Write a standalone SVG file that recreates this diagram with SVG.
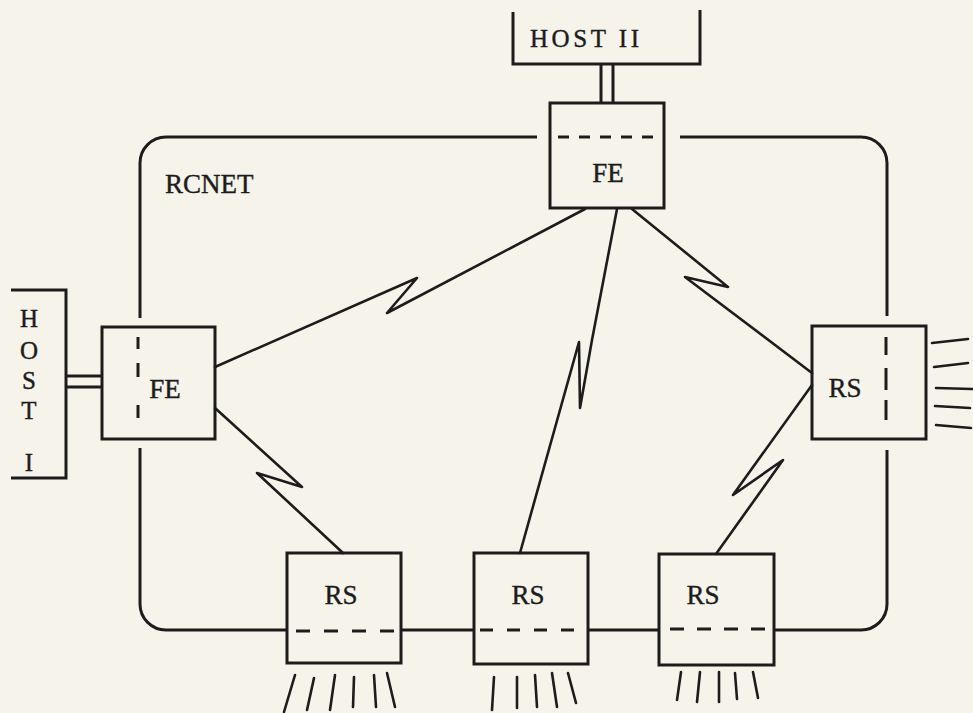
<svg xmlns="http://www.w3.org/2000/svg" width="973" height="713" viewBox="0 0 973 713">
<style>
.bg{fill:#f6f4ea}
.box{fill:none;stroke:#1c1c1c;stroke-width:3}
.ln{fill:none;stroke:#1c1c1c;stroke-width:2.6;stroke-linecap:round;stroke-linejoin:round}
.ring{fill:none;stroke:#1c1c1c;stroke-width:3;stroke-linecap:butt}
.dash{fill:none;stroke:#1c1c1c;stroke-width:3}
.lbl{font-family:"Liberation Serif",serif;font-size:27px;fill:#1c1c1c;stroke:#1c1c1c;stroke-width:0.4}
.tw{font-family:"Liberation Serif",serif;font-size:25px;fill:#1c1c1c;stroke:#1c1c1c;stroke-width:0.4}
</style>
<rect class="bg" x="0" y="0" width="973" height="713"/>

<g id="rcnet">
<path class="ring" d="M537,137 H166 A26,26 0 0 0 140,163 V318"/>
<path class="ring" d="M140,448 V604 A26,26 0 0 0 166,630 H287"/>
<path class="ring" d="M401,630 H474"/>
<path class="ring" d="M588,630 H659"/>
<path class="ring" d="M774,630 H861 A26,26 0 0 0 887,604 V450"/>
<path class="ring" d="M887,316 V163 A26,26 0 0 0 861,137 H680"/>
<text class="lbl" x="165" y="193" font-size="25">RCNET</text>
</g>

<g id="host2">
<path class="box" d="M513,12 V64 H700 V10"/>
<text class="tw" x="530" y="47" textLength="109" font-size="26">HOST II</text>
</g>

<g id="host1">
<path class="box" d="M11,290 H66 V478 H11"/>
<text class="tw" x="29" y="327" text-anchor="middle">H</text>
<text class="tw" x="29" y="359" text-anchor="middle">O</text>
<text class="tw" x="29" y="389" text-anchor="middle">S</text>
<text class="tw" x="29" y="419" text-anchor="middle">T</text>
<text class="tw" x="29" y="471" text-anchor="middle">I</text>
</g>

<g id="fe-top">
<rect class="box" x="550" y="103" width="114" height="105"/>
<line class="dash" x1="558" y1="137" x2="654" y2="137" stroke-dasharray="11 10"/>
<text class="lbl" x="608" y="182" text-anchor="middle">FE</text>
</g>

<g id="fe-left">
<rect class="box" x="102" y="327" width="113" height="112"/>
<line class="dash" x1="138" y1="337" x2="138" y2="349"/>
<line class="dash" x1="138" y1="363" x2="138" y2="377"/>
<line class="dash" x1="138" y1="405" x2="138" y2="418"/>
<text class="lbl" x="165" y="398" text-anchor="middle">FE</text>
</g>

<g id="rs-right">
<rect class="box" x="812" y="326" width="114" height="113"/>
<line class="dash" x1="886" y1="337" x2="886" y2="355"/>
<line class="dash" x1="886" y1="368" x2="886" y2="390"/>
<line class="dash" x1="886" y1="400" x2="886" y2="420"/>
<text class="lbl" x="845" y="397" text-anchor="middle">RS</text>
<line class="ln" x1="932" y1="343" x2="968" y2="339"/>
<line class="ln" x1="934" y1="367" x2="968" y2="363"/>
<line class="ln" x1="936" y1="388" x2="972" y2="389"/>
<line class="ln" x1="935" y1="406" x2="970" y2="408"/>
<line class="ln" x1="936" y1="425" x2="971" y2="428"/>
</g>

<g id="rs1">
<rect class="box" x="287" y="553" width="114" height="110"/>
<line class="dash" x1="296" y1="631" x2="397" y2="631" stroke-dasharray="14 14"/>
<text class="lbl" x="341" y="604" text-anchor="middle">RS</text>
<line class="ln" x1="295" y1="675" x2="284" y2="712"/>
<line class="ln" x1="314" y1="678" x2="307" y2="710"/>
<line class="ln" x1="335" y1="675" x2="330" y2="710"/>
<line class="ln" x1="354" y1="677" x2="353" y2="707"/>
<line class="ln" x1="374" y1="675" x2="376" y2="707"/>
<line class="ln" x1="387" y1="673" x2="395" y2="707"/>
</g>

<g id="rs2">
<rect class="box" x="474" y="553" width="114" height="111"/>
<line class="dash" x1="480" y1="630" x2="576" y2="630" stroke-dasharray="13 14"/>
<text class="lbl" x="528" y="604" text-anchor="middle">RS</text>
<line class="ln" x1="494" y1="677" x2="492" y2="710"/>
<line class="ln" x1="517" y1="677" x2="517" y2="708"/>
<line class="ln" x1="535" y1="675" x2="537" y2="707"/>
<line class="ln" x1="552" y1="673" x2="557" y2="707"/>
<line class="ln" x1="568" y1="673" x2="576" y2="703"/>
</g>

<g id="rs3">
<rect class="box" x="659" y="554" width="115" height="111"/>
<line class="dash" x1="670" y1="629" x2="766" y2="629" stroke-dasharray="14 13"/>
<text class="lbl" x="703" y="604" text-anchor="middle">RS</text>
<line class="ln" x1="681" y1="672" x2="677" y2="700"/>
<line class="ln" x1="700" y1="672" x2="697" y2="702"/>
<line class="ln" x1="719" y1="672" x2="719" y2="702"/>
<line class="ln" x1="735" y1="673" x2="737" y2="699"/>
<line class="ln" x1="753" y1="672" x2="758" y2="698"/>
</g>

<g id="connectors">
<line class="box" x1="601" y1="64" x2="601" y2="103"/>
<line class="box" x1="613" y1="64" x2="613" y2="103"/>
<line class="box" x1="66" y1="376" x2="102" y2="376"/>
<line class="box" x1="66" y1="387" x2="102" y2="387"/>
<polyline class="ln" points="215,367 417,278 387,313 585,209"/>
<polyline class="ln" points="617,209 592,340 580,408 579,342 520,553"/>
<polyline class="ln" points="632,209 728,287 685,277 812,373"/>
<polyline class="ln" points="812,385 733,495 783,460 716,554"/>
<polyline class="ln" points="215,408 302,487 257,473 343,553"/>
</g>
</svg>
